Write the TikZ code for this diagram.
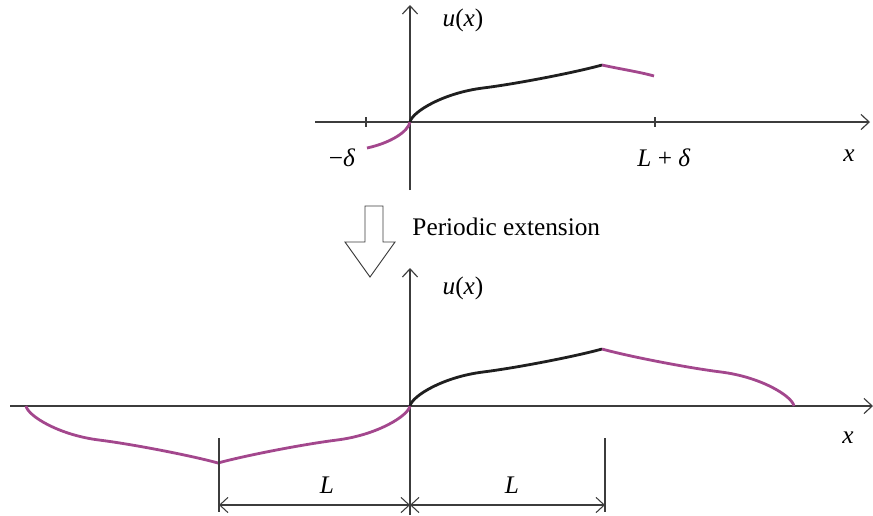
\documentclass[tikz,border=0pt]{standalone}
\usepackage{fontspec}
\setmainfont{Liberation Serif}
\usetikzlibrary{arrows.meta}
\definecolor{plum}{RGB}{163,71,141}
\definecolor{axisgray}{RGB}{60,60,60}
\begin{document}
\begin{tikzpicture}[x=0.015cm,y=-0.015cm,
  font=\fontsize{10.8}{13}\selectfont,
  axis/.style={draw=axisgray, line width=0.5pt, -{Straight Barb[length=3.5pt,width=6.5pt]}},
  thin/.style={draw=axisgray, line width=0.45pt},
  dimline/.style={thin, {Straight Barb[length=3.5pt,width=6.5pt]}-{Straight Barb[length=3.5pt,width=6.5pt]}},
  orig/.style={draw=black!88, line width=1.2pt},
  ext/.style={draw=plum, line width=1.2pt},
  lbl/.style={inner sep=0pt}]
\useasboundingbox (0,0) rectangle (873,515);

% top: u on [-delta, L+delta]
\coordinate (o1) at (410,122);
\coordinate (xs1) at (315,122);
\coordinate (xe1) at (870,122);
\coordinate (ys1) at (410,190);
\coordinate (ye1) at (410,5);
\draw[axis] (xs1) -- (xe1);
\draw[axis] (ys1) -- (ye1);
\draw[thin] (366,117) -- (366,127);
\draw[thin] (655,117) -- (655,127);
\node[lbl] (u1) at (463,20) {\textit{u}(\textit{x})};
\node[lbl] (x1) at (849,156) {\textit{x}};
\node[lbl] (md) at (342,158) {−\textit{δ}};
\node[lbl] (ld) at (664,158) {\textit{L} + \textit{δ}};
\draw[ext] (o1) .. controls (408,132) and (390,143) .. (367,148);
\draw[orig] (o1) .. controls (412,112) and (443,93) .. (483,88)
  .. controls (518,83.6) and (577,72) .. (602,65);
\draw[ext] (602,65) .. controls (620,69) and (640,72) .. (654,76);

% block arrow
\draw[thin, line width=0.4pt] (365,206) -- (383,206) -- (383,242) -- (395,242)
  -- (370,277) -- (345,242) -- (365,242) -- cycle;
\node[lbl, anchor=west] (pe) at (412,227) {Periodic extension};

% bottom: periodic extension
\coordinate (o2) at (410,406);
\coordinate (xs2) at (10,406);
\coordinate (xe2) at (873,406);
\coordinate (ys2) at (410,515);
\coordinate (ye2) at (410,268);
\draw[axis] (xs2) -- (xe2);
\draw[axis] (ys2) -- (ye2);
\node[lbl] (u2) at (463,288) {\textit{u}(\textit{x})};
\node[lbl] (x2) at (848,438) {\textit{x}};
\draw[ext] (26,406) .. controls (28,416) and (59,435) .. (99,440)
  .. controls (134,444.4) and (193,456) .. (218,463)
  .. controls (243,456) and (302,444.4) .. (337,440)
  .. controls (377,435) and (408,416) .. (o2);
\draw[orig] (o2) .. controls (412,396) and (443,377) .. (483,372)
  .. controls (518,367.6) and (577,356) .. (602,349);
\draw[ext] (602,349) .. controls (627,356) and (686,367.6) .. (721,372)
  .. controls (761,377) and (792,396) .. (794,406);

% dimensions
\coordinate (dl) at (219,505);
\coordinate (dm) at (410,505);
\coordinate (dr) at (605,505);
\draw[thin] (219,438) -- (219,512);
\draw[thin] (605,438) -- (605,512);
\draw[dimline] (dl) -- (dm);
\draw[dimline] (dm) -- (dr);
\node[lbl] (l1) at (327,485) {\textit{L}};
\node[lbl] (l2) at (512,485) {\textit{L}};
\end{tikzpicture}
\end{document}
